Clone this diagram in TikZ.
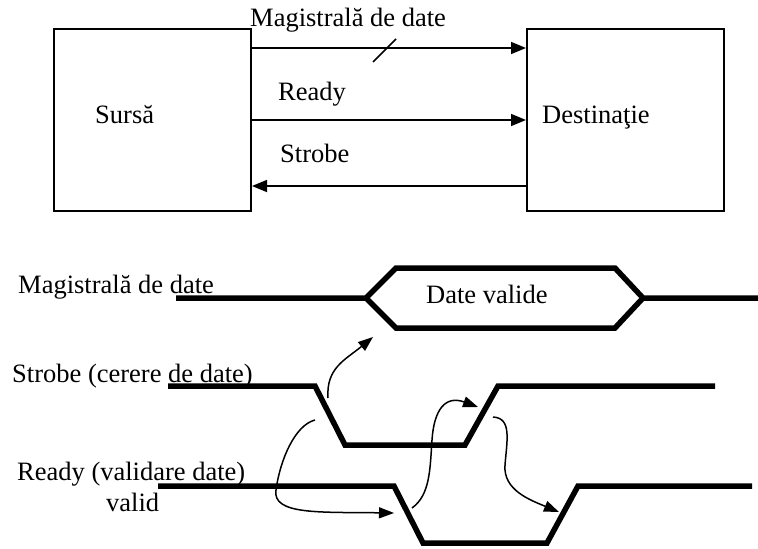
\documentclass[tikz,border=0pt]{standalone}
\usepackage{fontspec}
\setmainfont{Liberation Serif}
\usetikzlibrary{arrows.meta}
\begin{document}
\begin{tikzpicture}[x=1pt,y=-1pt,
  every node/.style={font=\fontsize{26.5}{31}\selectfont, inner sep=0pt},
  unit/.style={draw, line width=2pt, minimum width=197pt, minimum height=182pt},
  link/.style={line width=1.5pt, -{Triangle[length=15pt,width=12pt]}},
  wave/.style={line width=5.5pt, line join=miter},
  cause/.style={line width=1.5pt, -{Triangle[length=15pt,width=11pt]}},
  txt/.style={anchor=base west}]
\useasboundingbox (0,0) rectangle (758,549);

% --- block diagram: source and destination units ---
\node[unit] (src) at (152.5,120) {};
\node[unit] (dst) at (625.5,120) {};
\node[txt] (srclbl) at (95,123) {Sursă};
\node[txt] (dstlbl) at (542,123) {Destinaţie};

\coordinate (busrow) at (0,48);
\coordinate (rdyrow) at (0,120);
\coordinate (strrow) at (0,186);
\draw[link] (src.east |- busrow) -- (dst.west |- busrow);
\draw[link] (src.east |- rdyrow) -- (dst.west |- rdyrow);
\draw[link] (dst.west |- strrow) -- (src.east |- strrow);
% bus width mark
\draw[line width=1.5pt] (373,62) -- (396,39);

\node[txt] (buslbl) at (250,26) {Magistrală de date};
\node[txt] (rdylbl) at (278,100) {Ready};
\node[txt] (strlbl) at (280,162) {Strobe};

% --- timing diagram ---
\node[txt] (tbus) at (18,293) {Magistrală de date};
\node[txt] (tstr) at (12,382) {Strobe (cerere de date)};
\node[txt] (trdy) at (17,480) {Ready (validare date)};
\node[txt] (tval) at (106,511) {valid};

% data bus: valid window
\draw[wave] (176,298) -- (366,298) -- (396,268) -- (615,268) -- (643,298) -- (758,298);
\draw[wave] (366,298) -- (396,328) -- (615,328) -- (643,298);
\node[txt] (dv) at (426,303) {Date valide};

% strobe
\draw[wave] (168,386) -- (315,386) -- (345,445) -- (465,445) -- (498,386) -- (715,386);
% ready
\draw[wave] (158,486) -- (394,486) -- (423,543) -- (547,543) -- (578,486) -- (752,486);

% points on the edges used by the cause arrows
\coordinate (sfA) at (328,398);
\coordinate (sfB) at (315,420);
\coordinate (busopen) at (373,337);
\coordinate (rfIn) at (394,513);
\coordinate (rfOut) at (412,508);
\coordinate (srIn) at (478,407);
\coordinate (srOut) at (493,417);
\coordinate (rrIn) at (559,512);

\draw[cause] (sfA) .. controls (326,368) and (345,360) .. (busopen);
\draw[cause] (sfB) .. controls (295,425) and (280,460) .. (276,490)
                   .. controls (272,515) and (320,512) .. (rfIn);
\draw[cause] (rfOut) .. controls (430,495) and (430,470) .. (432,440)
                     .. controls (434,410) and (445,395) .. (srIn);
\draw[cause] (srOut) .. controls (512,418) and (507,440) .. (505,465)
                     .. controls (503,490) and (530,500) .. (rrIn);
\end{tikzpicture}
\end{document}
